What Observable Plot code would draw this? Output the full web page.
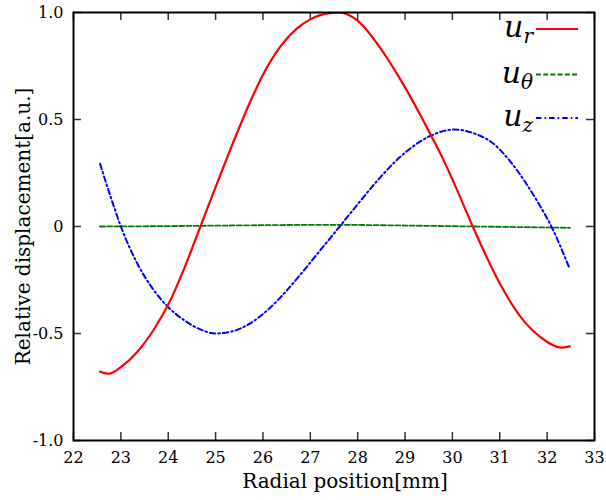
<!DOCTYPE html>
<html>
<head>
<meta charset="utf-8">
<script src="https://cdn.jsdelivr.net/npm/d3@7"></script>
<script src="https://cdn.jsdelivr.net/npm/@observablehq/plot@0.6"></script>
<style>
  html, body { margin: 0; padding: 0; background: #fff; }
  svg { display: block; }
</style>
</head>
<body>
<div id="chart"></div>
<script>
// u_r (red, solid)
const urX = [22.56, 22.75, 23.0, 23.35, 23.7, 24.0, 24.33, 24.68, 25.0, 25.44, 25.79, 26.0, 26.37, 26.72, 27.0, 27.44, 27.6, 27.8, 28.0, 28.49, 29.0, 29.55, 29.77, 30.0, 30.43, 30.61, 31.03, 31.46, 31.88, 32.3, 32.48];
const urY = [-0.678, -0.688, -0.657, -0.585, -0.48, -0.365, -0.2, 0.0, 0.184, 0.43, 0.612, 0.709, 0.842, 0.926, 0.968, 0.998, 1.0, 0.99, 0.962, 0.83, 0.65, 0.425, 0.33, 0.22, 0.0, -0.089, -0.278, -0.428, -0.52, -0.566, -0.56];
// u_theta (green, dashed)
const uthX = [22.56, 23.5, 24.5, 25.5, 26.5, 27.5, 28.5, 29.5, 30.5, 31.5, 32.48];
const uthY = [0.0, 0.001, 0.003, 0.005, 0.007, 0.008, 0.006, 0.003, 0.0, -0.003, -0.006];
// u_z (blue, dash-dot)
const uzX = [22.56, 22.79, 23.0, 23.35, 23.7, 24.0, 24.33, 24.69, 25.0, 25.4, 25.75, 26.1, 26.45, 26.8, 27.16, 27.62, 28.0, 28.43, 28.8, 29.13, 29.53, 30.05, 30.52, 30.82, 31.2, 31.53, 31.8, 32.09, 32.48];
const uzY = [0.293, 0.135, 0.0, -0.174, -0.299, -0.377, -0.437, -0.482, -0.5, -0.487, -0.45, -0.39, -0.312, -0.222, -0.125, 0.0, 0.104, 0.218, 0.305, 0.368, 0.423, 0.453, 0.43, 0.395, 0.31, 0.21, 0.115, 0.0, -0.2];

const xTicks = [22, 23, 24, 25, 26, 27, 28, 29, 30, 31, 32, 33];
const yTicks = [-1, -0.5, 0, 0.5, 1];
const yTickLabels = ["-1.0", "-0.5", "0", "0.5", "1.0"];
const xLabel = "Radial position[mm]";
const yLabel = "Relative displacement[a.u.]";
const seriesNames = [["u", "r"], ["u", "θ"], ["u", "z"]];
const seriesColors = ["#ff0000", "#008000", "#0000ff"];
const seriesDash = [null, "5,2.2", "5.5,3,1.6,3"];

const toPts = (xs, ys) => xs.map((x, i) => ({x, y: ys[i]}));
const ur = toPts(urX, urY), uth = toPts(uthX, uthY), uz = toPts(uzX, uzY);

const W = 606, H = 500, mL = 73, mR = 12, mT = 12, mB = 60;
const pw = W - mL - mR, ph = H - mT - mB;
const tick = 8;
const font = "'DejaVu Serif', serif";

const svg = Plot.plot({
  width: W, height: H,
  marginLeft: mL, marginRight: mR, marginTop: mT, marginBottom: mB,
  style: {fontFamily: font, fontSize: "16px", background: "#fff", color: "#000"},
  x: {domain: [22, 33], ticks: xTicks, label: null},
  y: {domain: [-1, 1], ticks: yTicks, label: null},
  marks: [
    Plot.axisX(xTicks, {tickSize: 0, tickPadding: 11, tickFormat: d => String(d), fontSize: 16, label: null, fontFamily: font}),
    Plot.axisY(yTicks, {tickSize: 0, tickPadding: 10, tickFormat: d => yTickLabels[yTicks.indexOf(d)], fontSize: 16, label: null, fontFamily: font}),
    Plot.tickX(xTicks, {x: d => d, insetTop: ph - tick, stroke: "#333", strokeWidth: 1.5}),
    Plot.tickX(xTicks, {x: d => d, insetBottom: ph - tick, stroke: "#333", strokeWidth: 1.5}),
    Plot.tickY(yTicks, {y: d => d, insetRight: pw - tick, stroke: "#333", strokeWidth: 1.5}),
    Plot.tickY(yTicks, {y: d => d, insetLeft: pw - tick, stroke: "#333", strokeWidth: 1.5}),
    Plot.line(uth, {x: "x", y: "y", stroke: seriesColors[1], strokeWidth: 1.8, strokeDasharray: seriesDash[1], curve: "monotone-x"}),
    Plot.line(uz, {x: "x", y: "y", stroke: seriesColors[2], strokeWidth: 2, strokeDasharray: seriesDash[2], curve: "monotone-x"}),
    Plot.line(ur, {x: "x", y: "y", stroke: seriesColors[0], strokeWidth: 2.2, curve: "monotone-x", clip: true}),
    Plot.frame({stroke: "#000", strokeWidth: 2}),
    Plot.text([xLabel], {frameAnchor: "bottom", textAnchor: "middle", lineAnchor: "middle", dy: 41, dx: 11, fontSize: 20, fill: "#000", fontFamily: font}),
    Plot.text([yLabel], {frameAnchor: "left", textAnchor: "middle", lineAnchor: "middle", rotate: -90, dx: -50, fontSize: 20, fill: "#000", fontFamily: font})
  ]
});

// legend (top right, inside plot)
const sel = d3.select(svg);
const lg = sel.append("g").attr("font-family", font);
const rowY = [29, 74.5, 118];
const textRight = 533, lineX1 = 536, lineX2 = 578;
seriesNames.forEach(([base, sub], i) => {
  const t = lg.append("text")
    .attr("x", textRight).attr("y", rowY[i] + 8)
    .attr("text-anchor", "end")
    .attr("font-style", "italic")
    .attr("font-size", 30)
    .attr("fill", "#000");
  t.append("tspan").text(base);
  t.append("tspan").attr("font-size", 20).attr("dy", 6).text(sub);
  lg.append("line")
    .attr("x1", lineX1).attr("x2", lineX2)
    .attr("y1", rowY[i]).attr("y2", rowY[i])
    .attr("stroke", seriesColors[i])
    .attr("stroke-width", i === 0 ? 2.2 : 2)
    .attr("stroke-dasharray", seriesDash[i]);
});

document.getElementById("chart").appendChild(svg);
</script>
</body>
</html>
